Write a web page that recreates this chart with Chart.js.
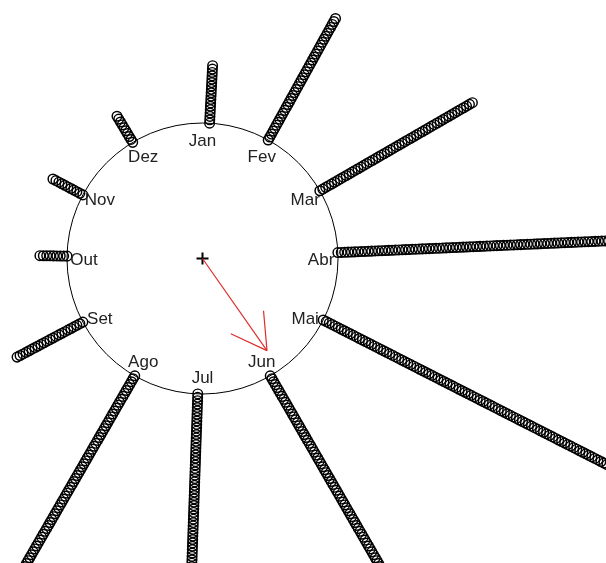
<!DOCTYPE html>
<html>
<head>
<meta charset="utf-8">
<script src="https://cdn.jsdelivr.net/npm/chart.js@4.4.1/dist/chart.umd.min.js"></script>
<style>
  body { margin: 0; background: #fff; }
  #wrap { width: 606px; height: 563px; }
</style>
</head>
<body>
<div id="wrap"><canvas id="rose"></canvas></div>
<script>
// month labels on the circle (clockwise from the top)
const months = ["Jan", "Fev", "Mar", "Abr", "Mai", "Jun", "Jul", "Ago", "Set", "Out", "Nov", "Dez"];
const labelAngles = [0, 30, 60, 90, 120, 150, 180, 210, 240, 270, 300, 330];

// stacked observations: direction (degrees, clockwise from north) and number of points
const stackAngles = [3, 29, 60, 87.5, 117, 150, 182, 210, 242, 271, 298, 329];
const stackCounts = [18, 42, 53, 85, 100, 110, 110, 100, 23, 9, 11, 10];
const stackSep = 0.025;

// mean direction arrow
const meanDirection = 145;
const meanLength = 0.83;

// plot frame: circle centre and radius in pixels on a 606x563 canvas
const W = 606, H = 563, cx = 202.5, cy = 258.5, R = 135.5;

const rad = (d) => (d * Math.PI) / 180;
const polar = (deg, r) => ({ x: r * Math.sin(rad(deg)), y: r * Math.cos(rad(deg)) });

const stackSets = stackAngles.map((a, i) => {
  const pts = [];
  for (let j = 0; j < stackCounts[i]; j++) pts.push(polar(a, 1 + j * stackSep));
  return {
    label: months[i],
    data: pts,
    pointStyle: "circle",
    pointRadius: 4.8,
    borderWidth: 1.45,
    borderColor: "#000",
    backgroundColor: "rgba(0,0,0,0)",
    showLine: false,
    clip: false,
  };
});

const tip = polar(meanDirection, meanLength);
const headLen = 0.295;
const head1 = polar(meanDirection + 180 - 30, headLen);
const head2 = polar(meanDirection + 180 + 30, headLen);
const red = "rgb(222,45,45)";
const arrowLine = (pts) => ({
  data: pts,
  showLine: true,
  borderColor: red,
  borderWidth: 1.2,
  pointRadius: 0,
  fill: false,
  clip: false,
});

const circleAxis = {
  id: "circleAxis",
  beforeDatasetsDraw(chart) {
    const { ctx, scales } = chart;
    const x0 = scales.x.getPixelForValue(0);
    const y0 = scales.y.getPixelForValue(0);
    const r = scales.x.getPixelForValue(1) - x0;
    ctx.save();
    ctx.beginPath();
    ctx.arc(x0, y0, r, 0, Math.PI * 2);
    ctx.strokeStyle = "#000";
    ctx.lineWidth = 1;
    ctx.stroke();
    ctx.restore();
  },
  afterDatasetsDraw(chart) {
    const { ctx, scales } = chart;
    ctx.save();
    ctx.font = "17px 'Liberation Sans', Arial, sans-serif";
    ctx.fillStyle = "#222";
    ctx.textAlign = "center";
    ctx.textBaseline = "alphabetic";
    months.forEach((m, i) => {
      const p = polar(labelAngles[i], 0.875);
      const px = scales.x.getPixelForValue(p.x);
      const py = scales.y.getPixelForValue(p.y);
      ctx.fillText(m, px, py + 6);
    });
    ctx.restore();
  },
};

new Chart(document.getElementById("rose"), {
  type: "scatter",
  data: {
    datasets: [
      ...stackSets,
      arrowLine([{ x: 0, y: 0 }, tip]),
      arrowLine([tip, { x: tip.x + head1.x, y: tip.y + head1.y }]),
      arrowLine([tip, { x: tip.x + head2.x, y: tip.y + head2.y }]),
      {
        data: [{ x: 0, y: 0 }],
        pointStyle: "cross",
        pointRadius: 6,
        borderWidth: 2,
        borderColor: "#000",
        showLine: false,
        clip: false,
      },
    ],
  },
  options: {
    responsive: true,
    maintainAspectRatio: false,
    animation: false,
    layout: { padding: 0, autoPadding: false },
    plugins: { legend: { display: false }, tooltip: { enabled: false } },
    scales: {
      x: { type: "linear", display: false, min: -cx / R, max: (W - cx) / R },
      y: { type: "linear", display: false, min: -(H - cy) / R, max: cy / R },
    },
  },
  plugins: [circleAxis],
});
</script>
</body>
</html>
